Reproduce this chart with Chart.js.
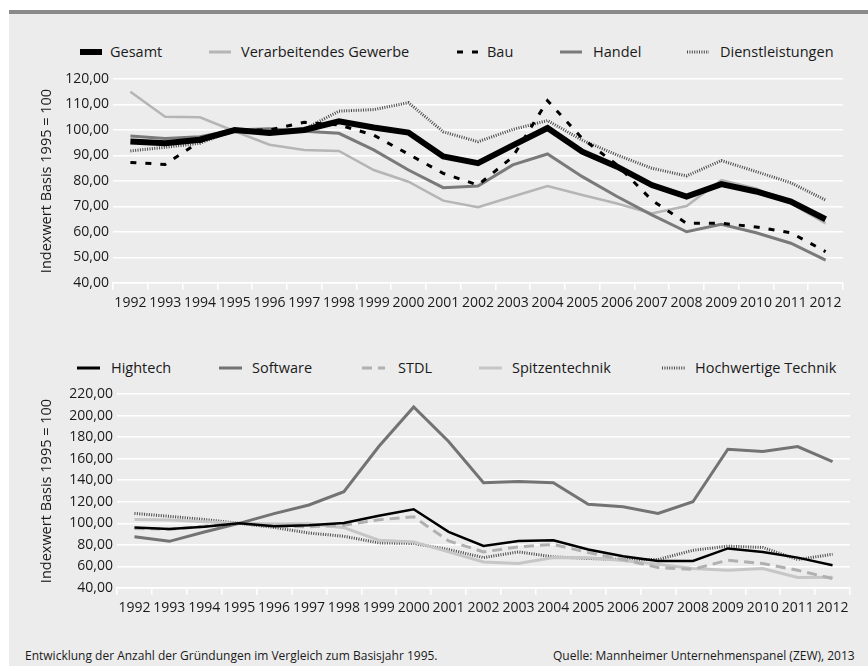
<!DOCTYPE html>
<html>
<head>
<meta charset="utf-8">
<script src="https://cdn.jsdelivr.net/npm/chart.js@4.4.1/dist/chart.umd.min.js"></script>
<style>
  html, body { margin: 0; padding: 0; background: #ffffff; }
  body { width: 868px; height: 666px; position: relative; overflow: hidden; font-family: "Open Sans", "Noto Sans", sans-serif; color: #1a1a1a; }
  #bar { position: absolute; left: 9px; top: 10px; width: 859px; height: 4px; background: #8a8a8a; }
  #panel { position: absolute; left: 9px; top: 14px; width: 859px; height: 652px; background: #ececec; }
  canvas { position: absolute; left: 0; }
  .leg { position: absolute; height: 20px; font-size: 14.5px; line-height: 20px; white-space: nowrap; }
  .leg svg { position: absolute; top: 0; }
  .foot { position: absolute; top: 647px; font-size: 12px; line-height: 18px; white-space: nowrap; color: #1a1a1a; }
</style>
</head>
<body>
<div id="bar"></div>
<div id="panel"></div>
<div id="legTop"></div>
<div id="legBot"></div>
<canvas id="c1" width="868" height="256" style="top:64px"></canvas>
<canvas id="c2" width="868" height="250" style="top:380px"></canvas>
<div class="foot" style="left:25px">Entwicklung der Anzahl der Gründungen im Vergleich zum Basisjahr 1995.</div>
<div class="foot" style="left:553px">Quelle: Mannheimer Unternehmenspanel (ZEW), 2013</div>
<script>
// ---- data ----
const years = ["1992","1993","1994","1995","1996","1997","1998","1999","2000","2001","2002","2003","2004","2005","2006","2007","2008","2009","2010","2011","2012"];

const topNames = ["Gesamt", "Verarbeitendes Gewerbe", "Bau", "Handel", "Dienstleistungen"];
const gesamt   = [95.5, 94.8, 96.2, 100, 98.8, 100, 103.4, 101, 99, 89.6, 87, 94, 100.8, 91.5, 85.6, 78.4, 73.9, 78.8, 75.9, 71.9, 65];
const verarb   = [115, 105.2, 105, 99.5, 94.2, 92.2, 91.8, 84.3, 79.7, 72.3, 69.7, 73.9, 78, 74.5, 71.2, 67.3, 70.2, 80.4, 77.1, 71.2, 63.4];
const bau      = [87.3, 86.5, 95.5, 100, 100, 103, 102, 98, 90.5, 83, 78.4, 89.5, 111.5, 96.7, 86.3, 72.5, 63.4, 63.4, 62, 59.7, 52.3];
const handel   = [97.6, 96.7, 97.4, 100, 100.5, 99.5, 98.7, 92.2, 84.3, 77.4, 78, 86.3, 90.6, 81.7, 73.9, 66.7, 60.1, 63, 59.7, 55.6, 49];
const dienst   = [91.8, 93.2, 94.8, 100, 99.5, 100.3, 107.4, 108, 110.7, 99.3, 95.4, 100.2, 103.7, 96, 90.2, 85, 82, 88, 83.7, 79.3, 72.5];

const botNames = ["Hightech", "Software", "STDL", "Spitzentechnik", "Hochwertige Technik"];
const hightech = [96.2, 94.8, 96.8, 100, 97.4, 98.3, 100.3, 107, 113, 92.1, 79, 83.7, 84.3, 75.7, 69.5, 65.1, 65.1, 76.7, 73.5, 68.2, 61.1];
const software = [87.5, 83.3, 92, 100, 109, 117, 129.4, 171.3, 207.9, 175.9, 137.7, 138.7, 137.7, 117.6, 115.4, 109.2, 120, 168.8, 166.6, 171.2, 157.3];
const stdl     = [95.3, 94.4, 97.2, 100, 97.4, 96.8, 98.3, 103.3, 106, 83.7, 73.5, 78.2, 80.4, 72.9, 66.4, 59, 57.4, 65.8, 62.7, 56.5, 48.7];
const spitzen  = [103.6, 103, 101.4, 100, 99.3, 99.5, 96, 84.4, 82.8, 73.5, 64.2, 62.7, 68.2, 68, 65.5, 62, 58, 56.5, 58, 49.7, 50];
const hochw    = [109.2, 106.5, 103.6, 100, 96.2, 91, 88, 81.9, 81.3, 75.7, 68.2, 73.5, 68.9, 67.4, 66.4, 66.4, 75, 78.8, 77.6, 66.4, 71.3];

const topTicks = [40, 120, 10];
const botTicks = [40, 220, 20];
const yTitle = "Indexwert Basis 1995 = 100";

// ---- styles ----
const FONT = '"Open Sans", "Noto Sans", sans-serif';
const topStyles = [
  { color: "#000000", width: 6,   dash: [] },
  { color: "#b5b5b5", width: 2.5, dash: [] },
  { color: "#000000", width: 3,   dash: [6, 9] },
  { color: "#7a7a7a", width: 3,   dash: [] },
  { color: "#4a4a4a", width: 3,   dash: [1, 1.4] }
];
const botStyles = [
  { color: "#000000", width: 2.5, dash: [] },
  { color: "#737373", width: 3,   dash: [] },
  { color: "#b0b0b0", width: 3,   dash: [10, 6] },
  { color: "#c6c6c6", width: 3,   dash: [] },
  { color: "#4a4a4a", width: 3,   dash: [1, 1.4] }
];

function ds(label, data, st, order) {
  return { label, data, borderColor: st.color, backgroundColor: st.color, borderWidth: st.width,
           borderDash: st.dash, pointRadius: 0, pointHoverRadius: 0, tension: 0, fill: false,
           order, borderCapStyle: 'butt', borderJoinStyle: 'miter' };
}

function fmt(v) { return Number(v).toFixed(2).replace('.', ','); }

function makeChart(id, datasets, ticks, padL, padT, padR, yW, xH) {
  return new Chart(document.getElementById(id), {
    type: 'line',
    data: { labels: years, datasets },
    options: {
      responsive: false, animation: false,
      layout: { padding: { left: padL, top: padT, right: padR, bottom: 0 } },
      plugins: { legend: { display: false }, tooltip: { enabled: false } },
      scales: {
        x: {
          type: 'category', offset: true,
          grid: { offset: true, drawOnChartArea: false, drawTicks: true, tickLength: 7, color: '#ffffff', lineWidth: 1.5 },
          border: { display: true, color: '#ffffff', width: 1.5 },
          ticks: { autoSkip: false, maxRotation: 0, minRotation: 0, padding: 5, color: '#1a1a1a', font: { family: FONT, size: 14 } },
          afterFit: s => { s.height = xH; }
        },
        y: {
          min: ticks[0], max: ticks[1],
          ticks: { stepSize: ticks[2], padding: 4, color: '#1a1a1a', font: { family: FONT, size: 14 }, callback: fmt },
          grid: { color: '#ffffff', lineWidth: 1.5, drawTicks: false },
          border: { display: false },
          title: { display: true, text: yTitle, color: '#1a1a1a', font: { family: FONT, size: 14.5 }, padding: { top: 4, bottom: 4 } },
          afterFit: s => { s.width = yW; }
        }
      }
    }
  });
}

const topSets = [gesamt, verarb, bau, handel, dienst].map((d, i) => ds(topNames[i], d, topStyles[i], [0, 3, 1, 2, 4][i]));
const botSets = [hightech, software, stdl, spitzen, hochw].map((d, i) => ds(botNames[i], d, botStyles[i], [0, 2, 1, 3, 4][i]));

makeChart('c1', topSets, topTicks, 34, 15, 25, 79, 37);
makeChart('c2', botSets, botTicks, 34, 14, 18, 83, 42);

// ---- HTML legends ----
function legend(containerId, names, styles, y, sampleX, textX, sampleW, firstBox) {
  const c = document.getElementById(containerId);
  names.forEach((n, i) => {
    const st = styles[i];
    const item = document.createElement('div');
    item.className = 'leg';
    item.style.top = (y - 10) + 'px';
    item.style.left = sampleX[i] + 'px';
    const w = sampleW;
    const sw = (firstBox && i === 0) ? 6 : Math.max(st.width, 3);
    const dash = st.dash.length ? st.dash.join(',') : 'none';
    item.innerHTML = '<svg width="' + w + '" height="20" style="left:0"><line x1="0" y1="10" x2="' + w + '" y2="10" stroke="' + st.color +
      '" stroke-width="' + sw + '" stroke-dasharray="' + dash + '"/></svg>' +
      '<span style="position:absolute;left:' + (textX[i] - sampleX[i]) + 'px">' + n + '</span>';
    c.appendChild(item);
  });
}
legend('legTop', topNames, topStyles, 52, [80, 209, 457, 560, 687], [110, 241, 487, 593, 720], 22, true);
legend('legBot', botNames, botStyles, 368, [77, 219, 362, 479, 662], [111, 252, 398, 512, 695], 23, false);
</script>
</body>
</html>
